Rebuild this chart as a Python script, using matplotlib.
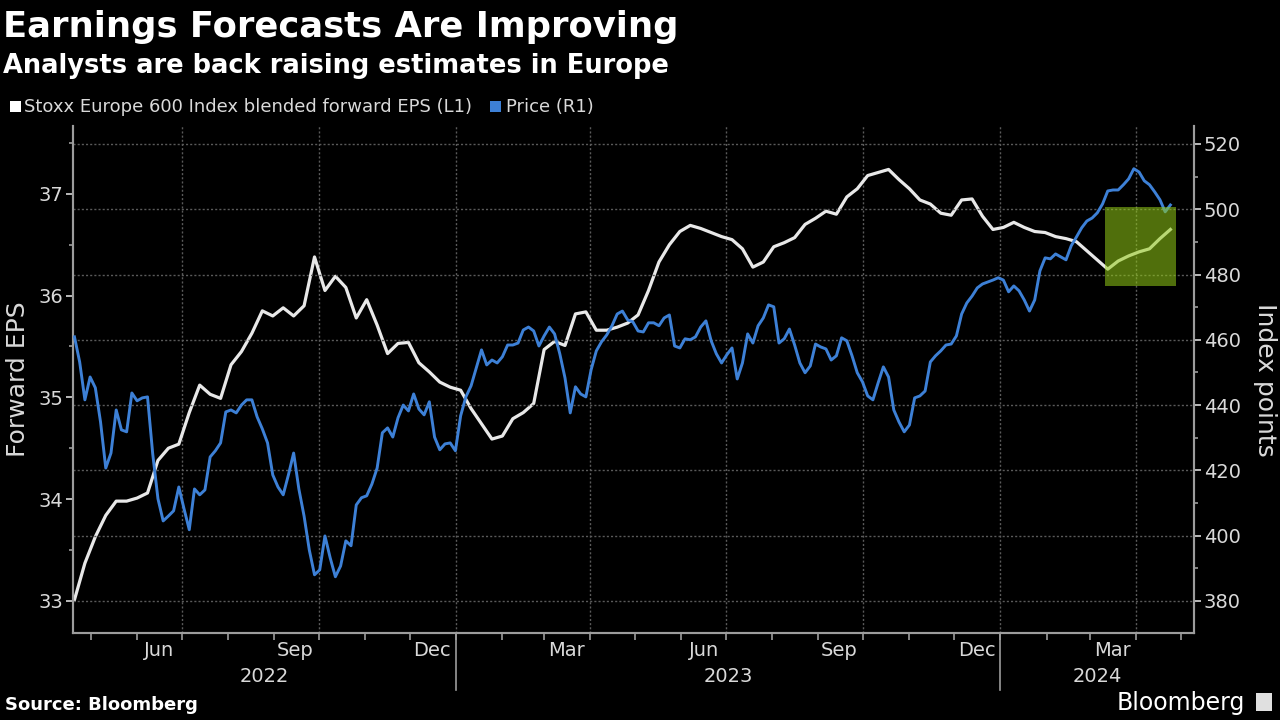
import numpy as np
import pandas as pd
import matplotlib
matplotlib.use('Agg')
import matplotlib.pyplot as plt
import matplotlib.dates as mdates
import matplotlib.transforms as mtransforms
from matplotlib.patches import Rectangle
from matplotlib.lines import Line2D

# weekly blended forward EPS (left axis)
eps_dates = pd.date_range('2022-04-20', periods=106, freq='7D')
eps = [33.01, 33.37, 33.63, 33.84, 33.98, 33.98, 34.01, 34.06, 34.38, 34.50,
       34.54, 34.85, 35.12, 35.03, 34.99, 35.32, 35.45, 35.63, 35.85, 35.80,
       35.88, 35.80, 35.90, 36.38, 36.05, 36.19, 36.08, 35.78, 35.96, 35.71,
       35.43, 35.53, 35.54, 35.34, 35.25, 35.15, 35.10, 35.07, 34.89, 34.74,
       34.59, 34.62, 34.79, 34.85, 34.94, 35.47, 35.55, 35.51, 35.82, 35.84,
       35.66, 35.66, 35.69, 35.73, 35.81, 36.05, 36.33, 36.50, 36.63, 36.69,
       36.66, 36.62, 36.58, 36.55, 36.46, 36.28, 36.33, 36.48, 36.52, 36.57,
       36.70, 36.76, 36.83, 36.80, 36.97, 37.05, 37.18, 37.21, 37.24, 37.14,
       37.05, 36.94, 36.90, 36.81, 36.79, 36.94, 36.95, 36.78, 36.65, 36.67,
       36.72, 36.67, 36.63, 36.62, 36.58, 36.56, 36.53, 36.44, 36.35, 36.26,
       36.34, 36.39, 36.43, 36.46, 36.56, 36.65]

# Stoxx 600 price, twice a week (right axis)
price_dates = pd.date_range('2022-04-20', periods=211, freq='84h')
price = [460.9, 453.2, 441.6, 448.6, 445.3, 434.8, 420.7, 425.3, 438.5, 432.4,
         431.8, 443.7, 441.3, 442.2, 442.5, 425.0, 411.3, 404.5, 406.0, 407.6,
         414.9, 408.2, 401.8, 414.3, 412.5, 414.0, 424.1, 426.0, 428.4, 437.9,
         438.5, 437.6, 440.0, 441.6, 441.6, 436.4, 432.7, 428.4, 418.6, 414.9,
         412.5, 418.6, 425.3, 414.3, 406.0, 395.6, 388.0, 389.5, 399.9, 393.2,
         387.4, 390.7, 398.4, 396.9, 409.4, 411.6, 412.2, 415.8, 420.7, 431.5,
         433.0, 430.2, 436.1, 440.0, 438.2, 443.4, 438.8, 437.0, 441.0, 430.2,
         426.3, 428.1, 428.4, 426.0, 436.7, 442.5, 445.9, 451.4, 456.9, 452.3,
         453.8, 452.9, 454.8, 458.4, 458.4, 459.0, 463.0, 463.9, 462.7, 458.1,
         461.2, 463.9, 461.8, 455.7, 448.3, 437.6, 445.6, 443.4, 442.5, 450.8,
         456.6, 459.4, 461.5, 464.3, 467.9, 468.8, 466.1, 465.5, 462.7, 462.4,
         465.2, 465.2, 464.3, 466.7, 467.6, 458.1, 457.5, 460.3, 460.0, 460.9,
         463.9, 465.8, 459.7, 455.7, 452.9, 455.4, 457.5, 448.0, 452.9, 461.8,
         459.0, 464.3, 466.7, 470.7, 470.1, 459.0, 460.3, 463.3, 458.4, 452.9,
         449.9, 452.0, 458.7, 457.8, 457.2, 453.8, 455.1, 460.6, 459.7, 455.1,
         449.9, 447.1, 442.8, 441.6, 446.8, 451.7, 448.6, 438.5, 434.8, 431.8,
         433.9, 442.2, 442.8, 444.3, 453.2, 455.1, 456.6, 458.4, 458.7, 461.2,
         467.9, 471.3, 473.4, 475.9, 477.1, 477.7, 478.3, 479.0, 478.3, 474.7,
         476.5, 475.0, 472.2, 468.8, 472.2, 481.1, 485.1, 484.8, 486.3, 485.4,
         484.5, 488.8, 491.5, 494.3, 496.4, 497.3, 498.9, 501.6, 505.6, 505.9,
         505.9, 507.5, 509.3, 512.4, 511.4, 508.7, 507.5, 505.3, 502.9, 499.2,
         501.3]

month_labels = ['Jun', 'Sep', 'Dec', 'Mar', 'Jun', 'Sep', 'Dec', 'Mar']
month_label_dates = pd.to_datetime(['2022-06-16', '2022-09-15', '2022-12-16', '2023-03-16',
                                    '2023-06-16', '2023-09-15', '2023-12-16', '2024-03-16'])
years = ['2022', '2023', '2024']

BG = 'black'
GRID = '#5a5a5a'
AXC = '#9c9c9c'
TXT = '#d9d9d9'
WHITE = '#e8e8e8'
BLUE = '#3d80d6'

plt.rcParams['font.family'] = ['DejaVu Sans']

fig = plt.figure(figsize=(12.8, 7.2), dpi=100, facecolor=BG)
ax = fig.add_axes([0.057, 0.121, 0.876, 0.704], facecolor=BG)
ax2 = ax.twinx()

x0, x1 = pd.Timestamp('2022-04-19'), pd.Timestamp('2024-05-10')
ax.set_xlim(x0, x1)
ax.set_ylim(32.685, 37.667)
ax2.set_ylim(370.2, 525.5)

# horizontal grid follows the right axis
for v in range(380, 521, 20):
    ax2.axhline(v, color=GRID, lw=1, ls=(0, (1.5, 1.5)), zorder=0)
for d in pd.date_range('2022-07-01', '2024-04-01', freq='QS'):
    ax.axvline(d, color=GRID, lw=1, ls=(0, (1.5, 1.5)), zorder=0)

ax.plot(eps_dates, eps, color=WHITE, lw=2.3, zorder=3)
ax2.plot(price_dates, price, color=BLUE, lw=2.1, zorder=3)

# highlight box
bx0 = mdates.date2num(pd.Timestamp('2024-03-11'))
bx1 = mdates.date2num(pd.Timestamp('2024-04-28'))
ax2.add_patch(Rectangle((bx0, 476.5), bx1 - bx0, 24.2, facecolor='#93cc16',
                        alpha=0.55, edgecolor='none', zorder=5))

for s in ['top']:
    ax.spines[s].set_visible(False)
    ax2.spines[s].set_visible(False)
for a in (ax, ax2):
    for s in ['left', 'right', 'bottom']:
        a.spines[s].set_color(AXC)
        a.spines[s].set_linewidth(1.5)

ax.set_yticks([33, 34, 35, 36, 37])
ax.set_yticks(np.arange(33.5, 37.6, 1.0), minor=True)
ax.tick_params(axis='y', colors=TXT, labelsize=14, length=5, width=1.2, pad=2, direction='out')
ax.tick_params(axis='y', which='minor', colors=AXC, length=3, width=1.2)
ax2.set_yticks(range(380, 521, 20))
ax2.set_yticks(range(390, 521, 20), minor=True)
ax2.tick_params(axis='y', colors=TXT, labelsize=14, length=5, width=1.2, pad=2)
ax2.tick_params(axis='y', which='minor', colors=AXC, length=3, width=1.2)

ax.set_xticks(pd.date_range('2022-05-01', '2024-05-01', freq='MS'))
ax.set_xticklabels([])
ax.set_xticks(month_label_dates, minor=True)
ax.set_xticklabels(month_labels, minor=True)
ax.tick_params(axis='x', which='major', colors=AXC, length=5, width=1.2)
ax.tick_params(axis='x', which='minor', length=0, labelsize=14, labelcolor=TXT, pad=6)

ax.set_ylabel('Forward EPS', color=TXT, fontsize=18, labelpad=6)
ax2.set_ylabel('Index points', color=TXT, fontsize=18, rotation=270, labelpad=26)

# year labels and separators
trans = mtransforms.blended_transform_factory(ax.transData, ax.transAxes)
year_bounds = [x0, pd.Timestamp('2023-01-01'), pd.Timestamp('2024-01-01'), x1]
for i, y in enumerate(years):
    mid = year_bounds[i] + (year_bounds[i + 1] - year_bounds[i]) / 2
    ax.text(mid, -0.087, y, transform=trans, ha='center', va='center',
            color=TXT, fontsize=14)
for b in year_bounds[1:3]:
    ax.add_line(Line2D([b, b], [0, -0.112], transform=trans, color=AXC,
                       lw=1.2, clip_on=False))

# titles
fig.text(0.002, 0.962, 'Earnings Forecasts Are Improving', color='white',
         fontsize=25.5, fontweight='bold', va='center', ha='left')
fig.text(0.002, 0.909, 'Analysts are back raising estimates in Europe', color='white',
         fontsize=18.5, fontweight='bold', va='center', ha='left')

# legend
fig.patches.append(Rectangle((0.0078, 0.845), 0.0085, 0.015, transform=fig.transFigure,
                             facecolor='white', edgecolor='none'))
fig.text(0.019, 0.852, 'Stoxx Europe 600 Index blended forward EPS (L1)', color=TXT,
         fontsize=13, va='center', ha='left')
fig.patches.append(Rectangle((0.383, 0.845), 0.0085, 0.015, transform=fig.transFigure,
                             facecolor=BLUE, edgecolor='none'))
fig.text(0.395, 0.852, 'Price (R1)', color=TXT, fontsize=13, va='center', ha='left')

# footer
fig.text(0.004, 0.021, 'Source: Bloomberg', color='white', fontsize=13,
         fontweight='bold', va='center', ha='left')
fig.text(0.973, 0.024, 'Bloomberg', color='white', fontsize=17,
         va='center', ha='right')
fig.patches.append(Rectangle((0.981, 0.012), 0.013, 0.025, transform=fig.transFigure,
                             facecolor='#e0e0e0', edgecolor='none'))

fig.savefig('out.png', dpi=100, facecolor=BG)
